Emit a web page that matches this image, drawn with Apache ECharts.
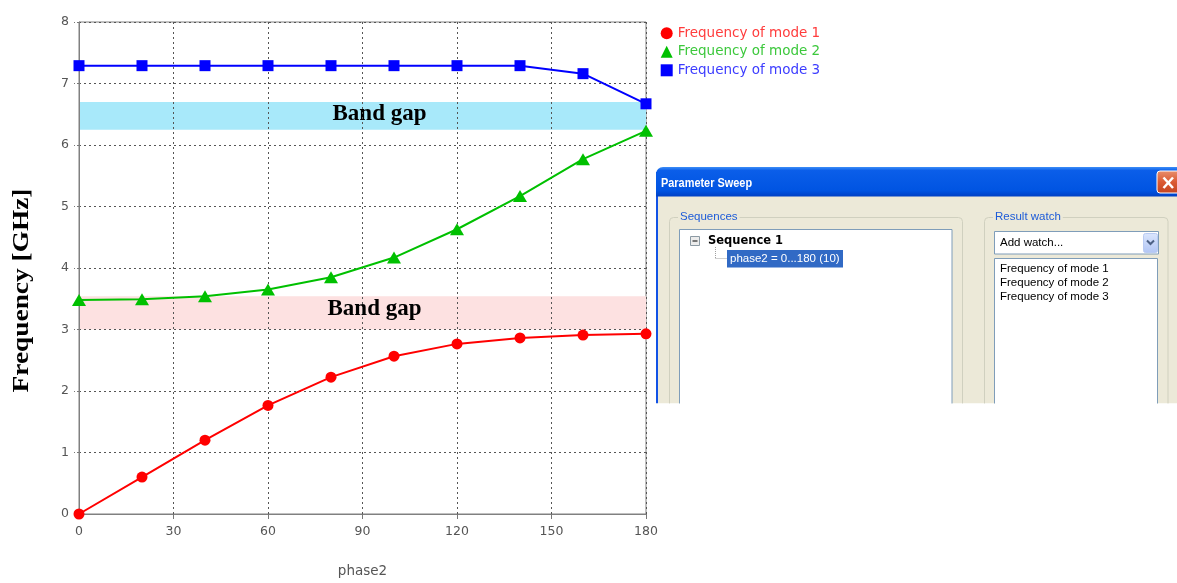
<!DOCTYPE html>
<html><head><meta charset="utf-8">
<script src="https://cdn.jsdelivr.net/npm/echarts@6/dist/echarts.min.js"></script>
<style>html,body{margin:0;padding:0;background:#fff}#c{width:1177px;height:583px}</style>
</head><body><div id="c"></div>
<script>
// ---- data ----
const phase = [0, 20, 40, 60, 80, 100, 120, 140, 160, 180];
const mode1 = [0, 0.60, 1.20, 1.765, 2.225, 2.566, 2.766, 2.863, 2.91, 2.93];
const mode2 = [3.48, 3.49, 3.54, 3.65, 3.85, 4.17, 4.63, 5.17, 5.77, 6.23];
const mode3 = [7.29, 7.29, 7.29, 7.29, 7.29, 7.29, 7.29, 7.29, 7.16, 6.67];
const seriesNames = ['Frequency of mode 1', 'Frequency of mode 2', 'Frequency of mode 3'];
const upperGap = [6.25, 6.70];
const lowerGap = [3.0, 3.54];
const bandLabel = 'Band gap';
const xRange = [0, 180, 30];
const yRange = [0, 8, 1];
const xName = 'phase2';
const yName = 'Frequency [GHz]';
const dialogTitle = 'Parameter Sweep';
const sequenceName = 'Sequence 1';
const sequenceItem = 'phase2 = 0...180 (10)';
const watchItems = ['Frequency of mode 1', 'Frequency of mode 2', 'Frequency of mode 3'];

const pairs = arr => phase.map((p, i) => [p, arr[i]]);
const tickFont = {fontFamily: 'DejaVu Sans', fontSize: 12.5, color: '#555'};
const dlgFont = '11.5px "Liberation Sans"';

const chart = echarts.init(document.getElementById('c'), null, {renderer: 'canvas'});

const graphicEls = [
  {type: 'text', x: 22, y: 290.5, rotation: Math.PI / 2, scaleX: 1.14,
   style: {text: yName, font: 'bold 24px "Liberation Serif"', fill: '#000', textAlign: 'center', textVerticalAlign: 'middle'}},
  // dialog body
  {type: 'rect', shape: {x: 657, y: 196, width: 520, height: 207.5}, style: {fill: '#ece9d8'}},
  {type: 'line', shape: {x1: 657, y1: 172, x2: 657, y2: 403.5}, style: {stroke: '#1152e6', lineWidth: 2}},
  // title bar
  {type: 'rect', shape: {x: 656, y: 167, width: 521, height: 29.5, r: [7, 0, 0, 0]},
   style: {fill: new echarts.graphic.LinearGradient(0, 0, 0, 1, [
     {offset: 0, color: '#3d8ef7'}, {offset: 0.12, color: '#0b5ee9'},
     {offset: 0.8, color: '#0054e2'}, {offset: 1, color: '#0040c4'}])}},
  {type: 'text', x: 661, y: 183, scaleX: 0.84, style: {text: dialogTitle, font: 'bold 13px "Liberation Sans"', fill: '#fff', textAlign: 'left', textVerticalAlign: 'middle'}},
  // close button
  {type: 'rect', shape: {x: 1157, y: 171, width: 24, height: 22, r: 3},
   style: {fill: new echarts.graphic.LinearGradient(0, 0, 0, 1, [
     {offset: 0, color: '#e8906f'}, {offset: 0.5, color: '#db5a33'}, {offset: 1, color: '#c3431f'}]),
     stroke: '#fff', lineWidth: 1}},
  {type: 'line', shape: {x1: 1163.5, y1: 177.5, x2: 1173, y2: 188}, style: {stroke: '#fff', lineWidth: 2.5}},
  {type: 'line', shape: {x1: 1173, y1: 177.5, x2: 1163.5, y2: 188}, style: {stroke: '#fff', lineWidth: 2.5}},
  // group boxes
  {type: 'rect', shape: {x: 669.5, y: 217.5, width: 293, height: 220, r: 4}, style: {fill: 'none', stroke: '#d0d0bf', lineWidth: 1}},
  {type: 'rect', shape: {x: 984.5, y: 217.5, width: 183.5, height: 220, r: 4}, style: {fill: 'none', stroke: '#d0d0bf', lineWidth: 1}},
  {type: 'text', x: 678, y: 217, style: {text: 'Sequences', font: dlgFont, fill: '#1d5bd8', backgroundColor: '#ece9d8', padding: [0, 2], textAlign: 'left', textVerticalAlign: 'middle'}},
  {type: 'text', x: 993, y: 217, style: {text: 'Result watch', font: dlgFont, fill: '#1d5bd8', backgroundColor: '#ece9d8', padding: [0, 2], textAlign: 'left', textVerticalAlign: 'middle'}},
  // sequences list
  {type: 'rect', shape: {x: 679.5, y: 229.5, width: 272.5, height: 220}, style: {fill: '#fff', stroke: '#7f9db9', lineWidth: 1}},
  {type: 'rect', shape: {x: 690.5, y: 236.5, width: 9, height: 9}, style: {fill: '#ececec', stroke: '#8c9aa4', lineWidth: 1}},
  {type: 'line', shape: {x1: 692.5, y1: 241, x2: 697.5, y2: 241}, style: {stroke: '#2a2a2a', lineWidth: 1.2}},
  {type: 'text', x: 708, y: 241.5, style: {text: sequenceName, font: 'bold 11.5px "DejaVu Sans"', fill: '#000', textAlign: 'left', textVerticalAlign: 'middle'}},
  {type: 'line', shape: {x1: 715.5, y1: 247, x2: 715.5, y2: 258.5}, style: {stroke: '#a0a0a0', lineWidth: 1, lineDash: [1, 1]}},
  {type: 'line', shape: {x1: 715.5, y1: 258.5, x2: 727, y2: 258.5}, style: {stroke: '#a0a0a0', lineWidth: 1, lineDash: [1, 1]}},
  {type: 'rect', shape: {x: 727, y: 250, width: 116, height: 17.5}, style: {fill: '#316ac5'}},
  {type: 'text', x: 730, y: 259, style: {text: sequenceItem, font: dlgFont, fill: '#fff', textAlign: 'left', textVerticalAlign: 'middle'}},
  // result watch combo
  {type: 'rect', shape: {x: 994.5, y: 231.5, width: 164, height: 22.5}, style: {fill: '#fff', stroke: '#7f9db9', lineWidth: 1}},
  {type: 'text', x: 1000, y: 243, style: {text: 'Add watch...', font: dlgFont, fill: '#000', textAlign: 'left', textVerticalAlign: 'middle'}},
  {type: 'rect', shape: {x: 1143.5, y: 233.5, width: 14, height: 19, r: 2},
   style: {fill: new echarts.graphic.LinearGradient(0, 0, 0, 1, [
     {offset: 0, color: '#dbe6fd'}, {offset: 1, color: '#b1c5f4'}]), stroke: '#b9cbf3', lineWidth: 1}},
  {type: 'polyline', shape: {points: [[1147, 240.5], [1150.5, 244], [1154, 240.5]]}, style: {stroke: '#4d6185', lineWidth: 2, fill: 'none'}},
  // result list
  {type: 'rect', shape: {x: 994.5, y: 258.5, width: 163, height: 200}, style: {fill: '#fff', stroke: '#7f9db9', lineWidth: 1}},
  // cut the screenshot at its bottom
  {type: 'rect', shape: {x: 652, y: 403.5, width: 530, height: 190}, style: {fill: '#fff'}}
];
watchItems.forEach((t, i) => {
  graphicEls.push({type: 'text', x: 1000, y: 268.5 + i * 14.3,
    style: {text: t, font: dlgFont, fill: '#000', textAlign: 'left', textVerticalAlign: 'middle'}});
});

const bandLabelStyle = {show: true, position: 'inside', color: '#000',
  fontFamily: 'Liberation Serif', fontWeight: 'bold', fontSize: 23};

chart.setOption({
  animation: false,
  backgroundColor: '#fff',
  grid: {left: 79, right: 531, top: 22, bottom: 67, show: true, borderColor: '#808080', borderWidth: 1, backgroundColor: 'transparent'},
  legend: {
    orient: 'vertical', left: 660.7, top: 26.3, padding: 0,
    itemWidth: 12, itemHeight: 12, itemGap: 4.5,
    textStyle: {fontFamily: 'DejaVu Sans', fontSize: 13.5},
    data: [
      {name: seriesNames[0], icon: 'circle', textStyle: {color: '#ff3c3c'}},
      {name: seriesNames[1], icon: 'triangle', textStyle: {color: '#3cc83c'}},
      {name: seriesNames[2], icon: 'rect', textStyle: {color: '#3c3cff'}}
    ]
  },
  xAxis: {
    type: 'value', min: xRange[0], max: xRange[1], interval: xRange[2], z: 2,
    name: xName, nameLocation: 'middle', nameGap: 50,
    nameTextStyle: {fontFamily: 'DejaVu Sans', fontSize: 13.5, color: '#555'},
    axisLine: {show: true, lineStyle: {color: '#808080', width: 1}},
    axisTick: {show: true, length: 5, lineStyle: {color: '#777'}},
    axisLabel: Object.assign({margin: 11}, tickFont),
    splitLine: {show: true, lineStyle: {type: [2, 3], color: '#555', width: 1}}
  },
  yAxis: {
    type: 'value', min: yRange[0], max: yRange[1], interval: yRange[2], z: 2,
    axisLine: {show: true, lineStyle: {color: '#808080', width: 1}},
    axisTick: {show: true, length: 5, lineStyle: {color: '#777', type: [2, 2]}},
    axisLabel: Object.assign({margin: 10, padding: [0, 0, 12, 0]}, tickFont),
    splitLine: {show: true, lineStyle: {type: [2, 3], color: '#555', width: 1}}
  },
  graphic: {elements: graphicEls},
  series: [
    {type: 'line', data: [], z: 1, silent: true,
     markArea: {silent: true, data: [
       [{xAxis: xRange[0], yAxis: upperGap[0], itemStyle: {color: '#a8e9fa'},
         label: Object.assign({offset: [17, -2], formatter: bandLabel}, bandLabelStyle)},
        {xAxis: xRange[1], yAxis: upperGap[1]}],
       [{xAxis: xRange[0], yAxis: lowerGap[0], itemStyle: {color: '#fde1e1'},
         label: Object.assign({offset: [12, -4], formatter: bandLabel}, bandLabelStyle)},
        {xAxis: xRange[1], yAxis: lowerGap[1]}]
     ]}},
    {name: seriesNames[0], type: 'line', z: 3, data: pairs(mode1), symbol: 'circle', symbolSize: 11,
     lineStyle: {color: '#ff0000', width: 2}, itemStyle: {color: '#ff0000'}},
    {name: seriesNames[1], type: 'line', z: 3, data: pairs(mode2), symbol: 'triangle', symbolSize: [14, 12],
     lineStyle: {color: '#00c000', width: 2}, itemStyle: {color: '#00c000'}},
    {name: seriesNames[2], type: 'line', z: 3, data: pairs(mode3), symbol: 'rect', symbolSize: 11,
     lineStyle: {color: '#0000ff', width: 2}, itemStyle: {color: '#0000ff'}}
  ]
});
</script></body></html>
